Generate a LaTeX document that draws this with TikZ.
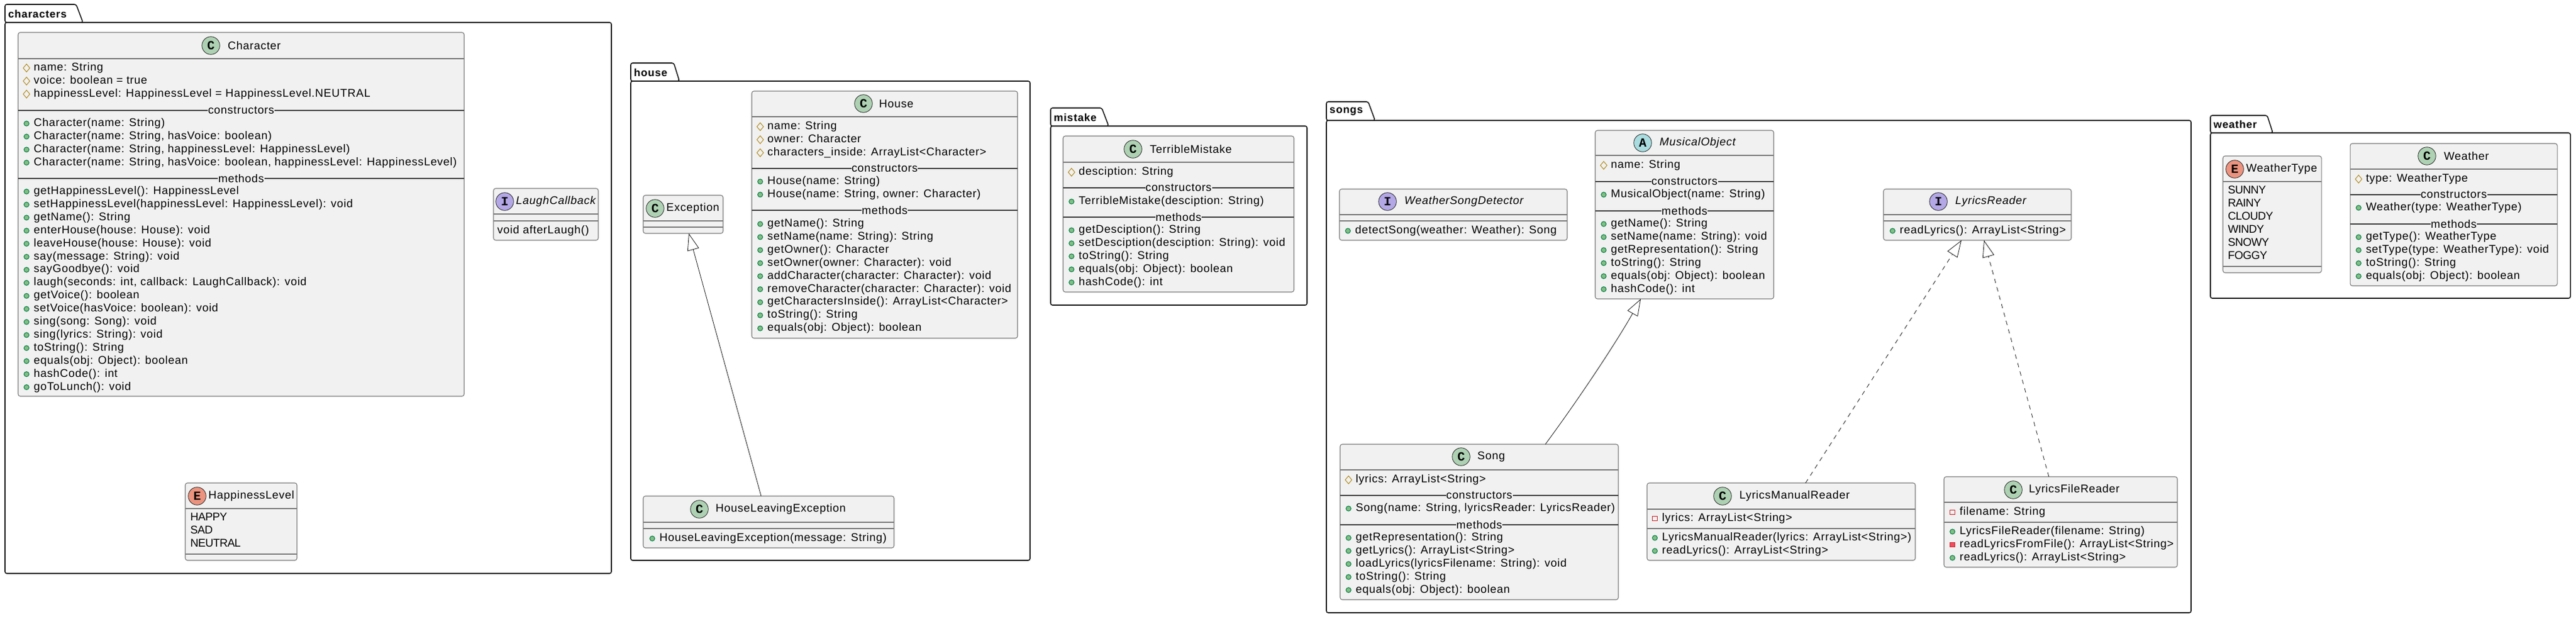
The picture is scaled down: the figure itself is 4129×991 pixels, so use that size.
\documentclass[tikz,border=0pt]{standalone}
\usepackage{fontspec}
\setmainfont[LetterSpace=4]{Liberation Sans}
\newfontfamily\iconfont{Liberation Mono}
\usetikzlibrary{arrows.meta,shapes.geometric}
\definecolor{boxfill}{HTML}{F1F1F1}
\definecolor{boxline}{HTML}{7A7A7A}
\definecolor{classc}{HTML}{ADD1B2}
\definecolor{ifacec}{HTML}{B4A7E5}
\definecolor{abstc}{HTML}{A9DCDF}
\definecolor{enumc}{HTML}{EB937F}
\definecolor{publine}{HTML}{038048}
\definecolor{pubfill}{HTML}{84BE84}
\definecolor{protline}{HTML}{B38D22}
\definecolor{privline}{HTML}{C82930}
\definecolor{privfillc}{HTML}{F24D5C}
\tikzset{
  pkgbox/.style={draw=black!90,line width=1.6pt,rounded corners=3pt,fill=white,inner sep=0pt,outer sep=0pt,anchor=north west},
  pkgtab/.style={draw=black!90,line width=1.6pt,rounded corners=3pt,fill=white},
  pkglabel/.style={anchor=west,inner sep=0pt,font=\fontsize{17}{20}\selectfont\bfseries\addfontfeature{LetterSpace=5}},
  classbox/.style={draw=boxline,line width=1.1pt,rounded corners=3.5pt,fill=boxfill,inner sep=0pt,outer sep=0pt,anchor=north west},
  hline/.style={draw=boxline,line width=1.1pt},
  sepline/.style={draw=black!75,line width=1.3pt},
  seplabel/.style={fill=boxfill,inner sep=0.5pt,font=\fontsize{18}{21}\selectfont},
  icon/.style={circle,draw=black!85,line width=0.8pt,minimum size=28.5pt,inner sep=0pt,font=\iconfont\fontsize{20}{20}\selectfont\bfseries},
  titletext/.style={anchor=west,inner sep=0pt,font=\fontsize{18}{21}\selectfont},
  member/.style={anchor=west,inner sep=0pt,text height=13pt,text depth=4pt,font=\fontsize{18}{21}\selectfont},
  enumval/.style={member,font=\fontsize{18}{21}\selectfont\addfontfeature{LetterSpace=-3}},
  pubmark/.style={circle,draw=publine,fill=pubfill,line width=1pt,minimum size=8pt,inner sep=0pt},
  protmark/.style={diamond,draw=protline,line width=1pt,minimum width=11pt,minimum height=13pt,inner sep=0pt},
  privmark/.style={rectangle,draw=privline,line width=1pt,minimum size=7.5pt,inner sep=0pt},
  privfill/.style={rectangle,draw=privline,fill=privfillc,line width=1pt,minimum size=7.5pt,inner sep=0pt},
  inherit/.style={line width=0.8pt,draw=black!90,-{Triangle[open,length=27pt,width=19pt,fill=white]}},
  realize/.style={inherit,dash pattern=on 7pt off 7pt}
}
% name, x, y, width, height
\newcommand{\classnode}[5]{\node[classbox,minimum width=#4pt,minimum height=#5pt] (#1) at (#2,#3) {};}
% name, letter, colour, icon x, title x, icon y, title, header line y
\newcommand{\classhead}[8]{
  \node[icon,fill=#3] (#1icon) at (#4,#6) {#2};
  \node[titletext] (#1title) at (#5,#6) {#7};
  \draw[hline] (#1.west |- 0,#8) -- (#1.east |- 0,#8);
}
% class, node name, y, text
\newcommand{\sepnode}[4]{
  \draw[sepline] (#1.west |- 0,#3) -- (#1.east |- 0,#3);
  \node[seplabel] (#2) at (#1.center |- 0,#3) {#4};
}
% mark style, prefix, text x, first y, lines
\newcommand{\memberrows}[5]{
  \foreach \txt [count=\n] in {#5} {
    \node[#1] (#2m\n) at ({#3-11.5},{#4+20.9*(\n-1)}) {};
    \node[member] (#2t\n) at (#3,{#4+20.9*(\n-1)}) {\txt};
  }
}
% text style, prefix, text x, first y, lines
\newcommand{\plainrows}[5]{
  \foreach \txt [count=\n] in {#5} {
    \node[#1] (#2t\n) at (#3,{#4+20.9*(\n-1)}) {\txt};
  }
}
% name, label, x, y, width, height, tab height, tab top width, tab foot width
\newcommand{\pkgnode}[9]{
  \node[pkgbox,minimum width=#5pt,minimum height=#6pt] (#1) at (#3,#4) {};
  \draw[pkgtab] (#1.north west) -- ++(0,-#7) -- ++(#8,0) -- ([xshift=#9pt]#1.north west) -- cycle;
  \node[pkglabel] (#1label) at ([xshift=5pt,yshift={(#7-1)*0.5pt}]#1.north west) {#2};
}
\begin{document}
\begin{tikzpicture}[x=1pt,y=-1pt]
\useasboundingbox (0,0) rectangle (4129,991);

% packages
\pkgnode{characters}{characters}{8}{36}{972}{883}{29}{114}{125}
\pkgnode{house}{house}{1011}{130}{640}{768}{29}{69}{78}
\pkgnode{mistake}{mistake}{1684}{202}{411}{287}{29}{82}{93}
\pkgnode{songs}{songs}{2126}{193}{1386}{789}{30}{67}{78}
\pkgnode{weather}{weather}{3543}{213}{577}{265}{28}{91}{100}

% characters
\classnode{Character}{29}{52}{715}{583}
\classhead{Character}{C}{classc}{338}{365}{73}{Character}{94}
\memberrows{protmark}{chrf}{54}{109}{name: String,voice: boolean = true,happinessLevel: HappinessLevel = HappinessLevel.NEUTRAL}
\sepnode{Character}{chrcons}{177}{constructors}
\memberrows{pubmark}{chrc}{54}{198}{Character(name: String),{Character(name: String, hasVoice: boolean)},{Character(name: String, happinessLevel: HappinessLevel)},{Character(name: String, hasVoice: boolean, happinessLevel: HappinessLevel)}}
\sepnode{Character}{chrmeth}{286}{methods}
\memberrows{pubmark}{chrm}{54}{307}{getHappinessLevel(): HappinessLevel,setHappinessLevel(happinessLevel: HappinessLevel): void,getName(): String,enterHouse(house: House): void,leaveHouse(house: House): void,say(message: String): void,sayGoodbye(): void,{laugh(seconds: int, callback: LaughCallback): void},getVoice(): boolean,setVoice(hasVoice: boolean): void,sing(song: Song): void,sing(lyrics: String): void,toString(): String,equals(obj: Object): boolean,hashCode(): int,goToLunch(): void}

\classnode{LaughCallback}{791}{302}{168}{83}
\classhead{LaughCallback}{I}{ifacec}{809}{827}{323}{\itshape LaughCallback}{343}
\draw[hline] (LaughCallback.west |- 0,354) -- (LaughCallback.east |- 0,354);
\plainrows{member}{lgh}{797}{370}{void afterLaugh()}

\classnode{HappinessLevel}{297}{774}{179}{124}
\classhead{HappinessLevel}{E}{enumc}{316}{334}{795}{HappinessLevel}{815}
\plainrows{enumval}{hap}{305}{830}{HAPPY,SAD,NEUTRAL}
\draw[hline] (HappinessLevel.west |- 0,888) -- (HappinessLevel.east |- 0,888);

% house
\classnode{House}{1205}{146}{426}{396}
\classhead{House}{C}{classc}{1384}{1409}{166}{House}{187}
\memberrows{protmark}{hsef}{1230}{203}{name: String,owner: Character,characters\_inside: ArrayList<Character>}
\sepnode{House}{hsecons}{270}{constructors}
\memberrows{pubmark}{hsec}{1230}{291}{House(name: String),{House(name: String, owner: Character)}}
\sepnode{House}{hsemeth}{337}{methods}
\memberrows{pubmark}{hsem}{1230}{359}{getName(): String,setName(name: String): String,getOwner(): Character,setOwner(owner: Character): void,addCharacter(character: Character): void,removeCharacter(character: Character): void,getCharactersInside(): ArrayList<Character>,toString(): String,equals(obj: Object): boolean}

\classnode{Exception}{1031}{313}{128}{61}
\classhead{Exception}{C}{classc}{1050}{1068}{334}{Exception}{354}
\draw[hline] (Exception.west |- 0,364) -- (Exception.east |- 0,364);

\classnode{HouseLeavingException}{1031}{795}{402}{83}
\classhead{HouseLeavingException}{C}{classc}{1121}{1147}{816}{HouseLeavingException}{837}
\draw[hline] (HouseLeavingException.west |- 0,847) -- (HouseLeavingException.east |- 0,847);
\memberrows{pubmark}{hlec}{1057}{863}{HouseLeavingException(message: String)}
\draw[inherit] ([xshift=-12pt]HouseLeavingException.north) -- ([xshift=9pt]Exception.south);

% mistake
\classnode{TerribleMistake}{1704}{218}{370}{250}
\classhead{TerribleMistake}{C}{classc}{1816}{1843}{239}{TerribleMistake}{260}
\memberrows{protmark}{misf}{1729}{276}{desciption: String}
\sepnode{TerribleMistake}{miscons}{301}{constructors}
\memberrows{pubmark}{misc}{1729}{323}{TerribleMistake(desciption: String)}
\sepnode{TerribleMistake}{mismeth}{348}{methods}
\memberrows{pubmark}{mism}{1729}{369}{getDesciption(): String,setDesciption(desciption: String): void,toString(): String,equals(obj: Object): boolean,hashCode(): int}

% songs
\classnode{WeatherSongDetector}{2147}{303}{365}{82}
\classhead{WeatherSongDetector}{I}{ifacec}{2224}{2251}{323}{\itshape WeatherSongDetector}{344}
\draw[hline] (WeatherSongDetector.west |- 0,354) -- (WeatherSongDetector.east |- 0,354);
\memberrows{pubmark}{wsdm}{2172}{370}{detectSong(weather: Weather): Song}

\classnode{MusicalObject}{2557}{209}{286}{270}
\classhead{MusicalObject}{A}{abstc}{2633}{2660}{229}{\itshape MusicalObject}{249}
\memberrows{protmark}{musf}{2582}{265}{name: String}
\sepnode{MusicalObject}{muscons}{291}{constructors}
\memberrows{pubmark}{musc}{2582}{312}{MusicalObject(name: String)}
\sepnode{MusicalObject}{musmeth}{338}{methods}
\memberrows{pubmark}{musm}{2582}{359}{getName(): String,setName(name: String): void,getRepresentation(): String,toString(): String,equals(obj: Object): boolean,hashCode(): int}

\classnode{LyricsReader}{3019}{303}{301}{82}
\classhead{LyricsReader}{I}{ifacec}{3107}{3134}{323}{\itshape LyricsReader}{344}
\draw[hline] (LyricsReader.west |- 0,354) -- (LyricsReader.east |- 0,354);
\memberrows{pubmark}{lyrm}{3045}{370}{readLyrics(): ArrayList<String>}

\classnode{Song}{2148}{712}{446}{249}
\classhead{Song}{C}{classc}{2342}{2368}{732}{Song}{753}
\memberrows{protmark}{sngf}{2173}{769}{lyrics: ArrayList<String>}
\sepnode{Song}{sngcons}{794}{constructors}
\memberrows{pubmark}{sngc}{2173}{815}{{Song(name: String, lyricsReader: LyricsReader)}}
\sepnode{Song}{sngmeth}{841}{methods}
\memberrows{pubmark}{sngm}{2173}{862}{getRepresentation(): String,getLyrics(): ArrayList<String>,loadLyrics(lyricsFilename: String): void,toString(): String,equals(obj: Object): boolean}

\classnode{LyricsManualReader}{2640}{774}{430}{124}
\classhead{LyricsManualReader}{C}{classc}{2761}{2788}{795}{LyricsManualReader}{816}
\memberrows{privmark}{lmrf}{2664}{831}{lyrics: ArrayList<String>}
\draw[hline] (LyricsManualReader.west |- 0,847) -- (LyricsManualReader.east |- 0,847);
\memberrows{pubmark}{lmrm}{2664}{862}{LyricsManualReader(lyrics: ArrayList<String>),readLyrics(): ArrayList<String>}

\classnode{LyricsFileReader}{3116}{764}{374}{145}
\classhead{LyricsFileReader}{C}{classc}{3227}{3252}{785}{LyricsFileReader}{805}
\memberrows{privmark}{lfrf}{3141}{821}{filename: String}
\draw[hline] (LyricsFileReader.west |- 0,837) -- (LyricsFileReader.east |- 0,837);
\memberrows{pubmark}{lfrc}{3141}{852}{LyricsFileReader(filename: String)}
\memberrows{privfill}{lfrp}{3141}{873}{readLyricsFromFile(): ArrayList<String>}
\memberrows{pubmark}{lfrm}{3141}{894}{readLyrics(): ArrayList<String>}

\draw[inherit] ([xshift=106pt]Song.north) .. controls (2530,640) and (2590,550) .. ([xshift=-70pt]MusicalObject.south);
\draw[realize] ([xshift=39pt]LyricsManualReader.north) -- ([xshift=-25.5pt]LyricsReader.south);
\draw[realize] ([xshift=-19pt]LyricsFileReader.north) -- ([xshift=10.5pt]LyricsReader.south);

% weather
\classnode{WeatherType}{3563}{250}{158}{187}
\classhead{WeatherType}{E}{enumc}{3582}{3600}{271}{WeatherType}{291}
\plainrows{enumval}{wty}{3571}{306}{SUNNY,RAINY,CLOUDY,WINDY,SNOWY,FOGGY}
\draw[hline] (WeatherType.west |- 0,427) -- (WeatherType.east |- 0,427);

\classnode{Weather}{3767}{230}{332}{228}
\classhead{Weather}{C}{classc}{3890}{3917}{250}{Weather}{271}
\memberrows{protmark}{wthf}{3792}{287}{type: WeatherType}
\sepnode{Weather}{wthcons}{312}{constructors}
\memberrows{pubmark}{wthc}{3792}{333}{Weather(type: WeatherType)}
\sepnode{Weather}{wthmeth}{359}{methods}
\memberrows{pubmark}{wthm}{3792}{380}{getType(): WeatherType,setType(type: WeatherType): void,toString(): String,equals(obj: Object): boolean}
\end{tikzpicture}
\end{document}
